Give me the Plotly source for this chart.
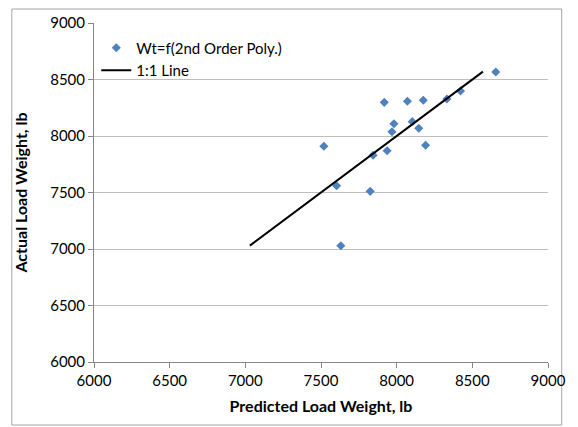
import plotly.graph_objects as go

# Predicted vs. actual load weight (lb)
predicted = [8655, 8422, 8332, 7918, 8071, 8176, 7982, 8103, 7969, 8146,
             7519, 8191, 7844, 7937, 7603, 7825, 7631]
actual = [8566, 8398, 8328, 8298, 8307, 8316, 8109, 8127, 8038, 8068,
          7909, 7918, 7829, 7870, 7560, 7510, 7029]

# 1:1 reference line endpoints
line_x = [7030, 8570]
line_y = [7030, 8570]

tick_vals = [6000, 6500, 7000, 7500, 8000, 8500, 9000]

W, H = 578, 427
L, R, T, B = 94, 20, 23, 65
pw, ph = W - L - R, H - T - B

font_family = "Lato, Open Sans, sans-serif"

fig = go.Figure()
fig.add_trace(go.Scatter(
    x=predicted, y=actual, mode="markers",
    name="Wt=f(2nd Order Poly.)",
    marker=dict(symbol="diamond", size=7, color="#4F81BD"),
))
fig.add_trace(go.Scatter(
    x=line_x, y=line_y, mode="lines", name="1:1 Line",
    line=dict(color="black", width=2),
))

axis_common = dict(
    range=[6000, 9000], tickvals=tick_vals,
    showline=True, linecolor="#868686", linewidth=1,
    ticks="outside", ticklen=5, tickcolor="#868686",
    tickfont=dict(family=font_family, size=15, color="#000000"),
    zeroline=False,
)

fig.update_layout(
    width=W, height=H,
    margin=dict(l=L, r=R, t=T, b=B),
    paper_bgcolor="white", plot_bgcolor="white",
    font=dict(family=font_family, color="#000000"),
    xaxis=dict(**axis_common, showgrid=False,
               title=dict(text="<b>Predicted Load Weight, lb</b>",
                          font=dict(size=16), standoff=12)),
    yaxis=dict(**axis_common, showgrid=True, gridcolor="#BFBFBF", gridwidth=1,
               title=dict(text="<b>Actual Load Weight, lb</b>",
                          font=dict(size=16), standoff=18)),
    legend=dict(x=0.005, y=0.975, xanchor="left", yanchor="top",
                bgcolor="rgba(0,0,0,0)", font=dict(size=15),
                tracegroupgap=2, itemwidth=30),
    showlegend=True,
    shapes=[dict(type="rect", xref="paper", yref="paper",
                 x0=(10 - L) / pw, x1=(572 - L) / pw,
                 y0=(ph - (425 - T)) / ph, y1=(ph - (9 - T)) / ph,
                 line=dict(color="#A6A6A6", width=1), fillcolor="rgba(0,0,0,0)",
                 layer="below")],
)

fig.write_html("out.html")
